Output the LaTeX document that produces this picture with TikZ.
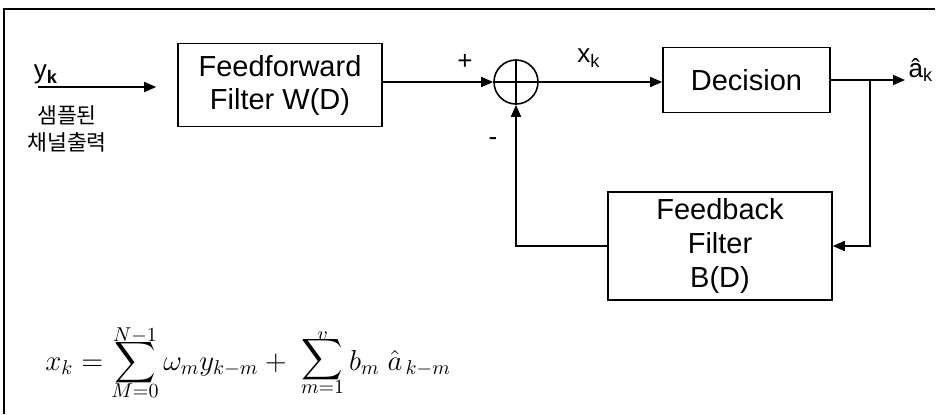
\documentclass[tikz,border=0pt]{standalone}
\usepackage[no-math]{fontspec}
\setmainfont{Liberation Sans}
\newfontfamily\korfont{Noto Sans CJK KR}
\usepackage{amsmath}
\usetikzlibrary{positioning, arrows.meta, calc}

% Summe mit eng gesetzten Grenzen
\newcommand{\stsum}[2]{\mathop{\vcenter{\offinterlineskip\halign{\hfil$##$\hfil\cr
  \scriptstyle #2\cr\noalign{\kern-2pt}\displaystyle\sum\cr\noalign{\kern-1pt}\scriptstyle #1\cr}}}}

\tikzset{
  block/.style={draw, line width=0.8pt, rectangle, align=center, font=\fontsize{14.5}{16.5}\selectfont},
  sumnode/.style={draw, line width=0.8pt, circle, minimum size=22pt, inner sep=0pt},
  sig/.style={line width=0.8pt, -{Triangle[length=6pt,width=5pt]}},
  wire/.style={line width=0.8pt},
  lbl/.style={font=\fontsize{13}{15}\selectfont, inner sep=0pt}
}

\begin{document}
\begin{tikzpicture}[x=0.5pt, y=-0.5pt]
\useasboundingbox (0,0) rectangle (936,414);

  % Rahmen
  \draw[line width=1pt] (4,414) -- (4,9) -- (935,9);

  % Bloecke
  \node[block, minimum width=102pt, minimum height=41.5pt] (ff) at (280,85) {Feedforward\\Filter W(D)};
  \node[sumnode] (sum) at (516,82) {};
  \draw[wire] (sum.north) -- (sum.south);
  \draw[wire] (sum.west) -- (sum.east);
  \node[block, minimum width=83.5pt, minimum height=32.5pt] (dec) at (746.5,80) {Decision};
  \node[block, minimum width=112pt, minimum height=54pt, font=\fontsize{14.5}{17}\selectfont] (fb) at (720,246) {Feedback\\Filter\\B(D)};

  \coordinate (yin) at (38,87);
  \coordinate (br) at (870,80);
  \coordinate (aout) at (905,80);

  % Signale
  \draw[sig, shorten >=10.5pt] (yin) -- (ff.west |- yin);
  \draw[sig] (ff.east |- sum.west) -- (sum.west);
  \draw[sig] (sum.east) -- (dec.west |- sum.east);
  \draw[sig] (dec.east |- br) -- (aout);
  \draw[sig] (br) |- (fb.east);
  \draw[sig] (fb.west) -| (sum.south);

  % Beschriftungen
  \node[lbl] (ylab) at (46,74) {y\textsubscript{\textbf{k}}};
  \node[align=center, font=\korfont\fontsize{10.8}{13.5}\selectfont, inner sep=0pt] (kor) at (67,129) {샘플된\\채널출력};
  \node[lbl] (plus) at (465,62) {+};
  \node[lbl] (xlab) at (589,58) {x\textsubscript{k}};
  \node[lbl] (minus) at (493,142) {-};
  \node[lbl] (alab) at (921,70) {\^{a}\textsubscript{k}};

  % Formel
  \node[anchor=base west, inner sep=0pt, font=\Large] (eq) at (45,370)
    {$x_k = \stsum{M=0}{N-1} \omega_m y_{k-m} +\ \stsum{m=1}{v} b_m\ \hat{a}_{\,k-m}$};
\end{tikzpicture}
\end{document}
